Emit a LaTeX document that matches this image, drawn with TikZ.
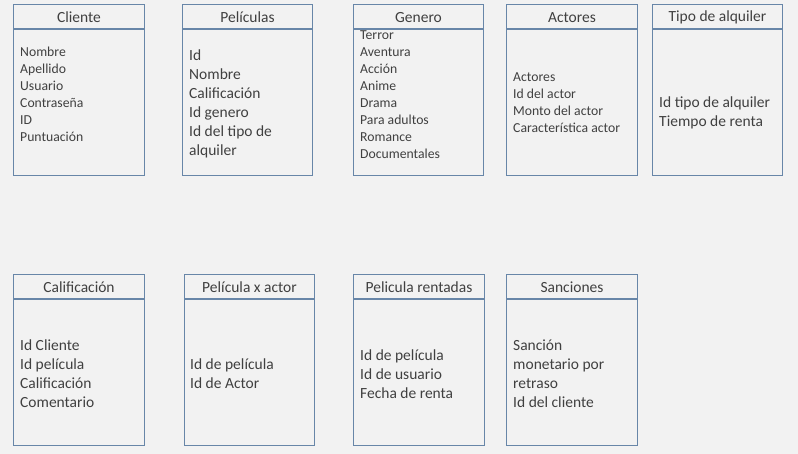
\documentclass[tikz,border=0pt]{standalone}
\usepackage{fontspec}
\setmainfont{Carlito}
\usetikzlibrary{positioning}
\definecolor{fondo}{RGB}{242,242,242}
\definecolor{borde}{RGB}{104,134,168}
\definecolor{texto}{RGB}{64,64,64}

\tikzset{
  tabla/.style={draw=borde, line width=1pt, fill=fondo, minimum width=131pt, minimum height=171pt, anchor=north west, inner sep=0pt},
  titulo/.style={text=texto, font=\fontsize{15.5}{19}\selectfont},
  campos/.style={text=texto, align=left, anchor=west, inner sep=0pt, font=\fontsize{15.5}{19}\selectfont},
  camposchico/.style={campos, font=\fontsize{13.7}{17}\selectfont}
}

\begin{document}
\begin{tikzpicture}[x=1pt, y=-1pt]
                \fill[fondo] (0,0) rectangle (798,454);
                \useasboundingbox (0,0) rectangle (798,454);

                % fila de arriba
                \node[tabla] (cliente) at (13,4) {};
                \node[tabla, minimum width=130pt] (peliculas) at (182,4) {};
                \node[tabla, minimum width=130pt] (genero) at (353,4) {};
                \node[tabla] (actores) at (506,4) {};
                \node[tabla, minimum width=130pt] (tipo) at (652,4) {};

                % fila de abajo
                \node[tabla] (calificacion) at (13,274) {};
                \node[tabla, minimum width=130pt] (pelxactor) at (184,274) {};
                \node[tabla] (rentadas) at (353,274) {};
                \node[tabla] (sanciones) at (506,274) {};

                \foreach \t in {cliente, peliculas, genero, actores, tipo, calificacion, pelxactor, rentadas, sanciones}
                    \draw[borde, line width=1.2pt] ([yshift=-25pt]\t.north west) -- ([yshift=-25pt]\t.north east);

                % titulos
                \node[titulo] (clienteT) at ([yshift=-13.5pt]cliente.north) {Cliente};
                \node[titulo] (peliculasT) at ([yshift=-13.5pt]peliculas.north) {Películas};
                \node[titulo] (generoT) at ([yshift=-13.5pt]genero.north) {Genero};
                \node[titulo] (actoresT) at ([yshift=-13.5pt]actores.north) {Actores};
                \node[titulo] (tipoT) at ([yshift=-13.5pt]tipo.north) {Tipo de alquiler};
                \node[titulo] (calificacionT) at ([yshift=-13.5pt]calificacion.north) {Calificación};
                \node[titulo] (pelxactorT) at ([yshift=-13.5pt]pelxactor.north) {Película x actor};
                \node[titulo] (rentadasT) at ([yshift=-13.5pt]rentadas.north) {Pelicula rentadas};
                \node[titulo] (sancionesT) at ([yshift=-13.5pt]sanciones.north) {Sanciones};

                % campos
                \node[camposchico] (clienteC) at (20,94) {Nombre\\Apellido\\Usuario\\Contraseña\\ID\\Puntuación};
                \node[campos] (peliculasC) at (189,103.5) {Id\\Nombre\\Calificación\\Id genero\\Id del tipo de\\alquiler};
                \node[camposchico] (generoC) at (360,94.5) {Terror\\Aventura\\Acción\\Anime\\Drama\\Para adultos\\Romance\\Documentales};
                \node[camposchico] (actoresC) at (513,103) {Actores\\Id del actor\\Monto del actor\\Característica actor};
                \node[campos] (tipoC) at (659,113) {Id tipo de alquiler\\Tiempo de renta};
                \node[campos] (calificacionC) at (20,373.5) {Id Cliente\\Id película\\Calificación\\Comentario};
                \node[campos] (pelxactorC) at (190,374) {Id de película\\Id de Actor};
                \node[campos] (rentadasC) at (360,374) {Id de película\\Id de usuario\\Fecha de renta};
                \node[campos] (sancionesC) at (513,374) {Sanción\\monetario por\\retraso\\Id del cliente};
            \end{tikzpicture}
\end{document}
